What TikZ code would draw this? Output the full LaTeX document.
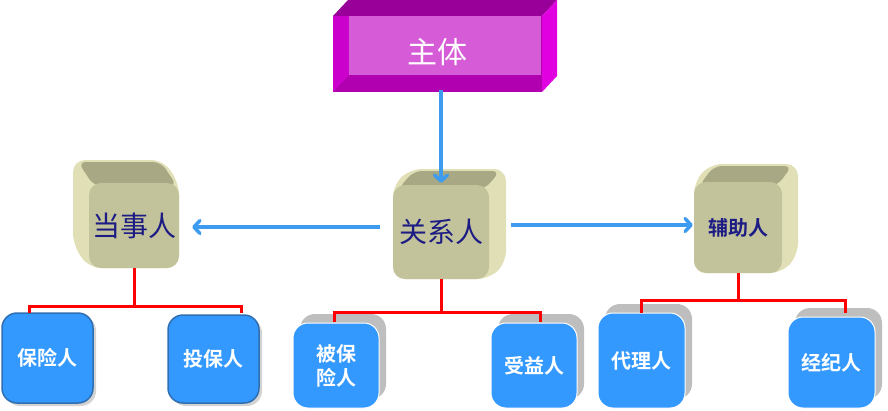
\documentclass[tikz,border=0pt]{standalone}
\usepackage{fontspec}
\newfontfamily\cjk[BoldFont={Noto Sans CJK SC Bold}]{Noto Sans CJK SC}
\usetikzlibrary{arrows,arrows.meta,positioning,shadows}

\definecolor{cubefront}{HTML}{C3C39B}
\definecolor{cubetop}{HTML}{A8A884}
\definecolor{cubeside}{HTML}{E0DFB5}
\definecolor{navytext}{HTML}{1C1C84}
\definecolor{boxblue}{HTML}{3399FF}
\definecolor{boxedge}{HTML}{2F6EB0}
\definecolor{backgrey}{HTML}{BEBEBE}
\definecolor{arrowblue}{HTML}{3D9BF0}

\begin{document}
\begin{tikzpicture}[x=1pt,y=-1pt,font=\cjk]
\tikzstyle{cube}=[rounded corners=12pt, fill=cubefront, text=navytext, inner sep=0pt]
\tikzstyle{bluebox}=[rounded corners=15pt, fill=boxblue, text=white, font=\cjk\bfseries\fontsize{20}{24}\selectfont, align=center, inner sep=0pt]
\tikzstyle{edged}=[draw=boxedge, line width=1.5pt, drop shadow={shadow xshift=3pt,shadow yshift=-3pt,opacity=.35}]
\tikzstyle{backed}=[draw=white, line width=1pt, drop shadow={shadow xshift=7pt,shadow yshift=9pt,fill=backgrey,opacity=1}]
\tikzstyle{bluearrow}=[draw=arrowblue, line width=3.5pt, -{Straight Barb[length=6pt,width=13pt,round]}]
\tikzstyle{redline}=[draw=red, line width=3pt]

\useasboundingbox (0,0) rectangle (888,410);

% top box
\fill[fill={rgb,255:red,153;green,0;blue,153}] (333,16) -- (348,0) -- (557,0) -- (542,16) -- cycle;
\fill[fill={rgb,255:red,224;green,0;blue,224}] (542,16) -- (557,0) -- (557,76) -- (542,92) -- cycle;
\fill[fill={rgb,255:red,176;green,0;blue,176}] (333,16) rectangle (542,92);
\fill[fill={rgb,255:red,204;green,0;blue,204}] (333,16) -- (349,16) -- (349,75) -- (333,92) -- cycle;
\fill[fill={rgb,255:red,214;green,91;blue,214}] (349,16) rectangle (541,75);
\node[minimum width=209pt, minimum height=76pt, inner sep=0pt, text=white, font=\cjk\fontsize{30}{34}\selectfont] (zhuti) at (437.5,52) {主体};

% cubes
\fill[cubeside, rounded corners=12pt] (73,160) -- (163,160) -- (179,183) -- (179,268) -- (89,268) -- (73,245) -- cycle;
\fill[cubetop, rounded corners=8pt] (78,162) -- (161,162) -- (177,186) -- (94,186) -- cycle;
\node[cube, minimum width=90pt, minimum height=85pt, font=\cjk\fontsize{28}{30}\selectfont] (dangshi) at (134,225.5) {当事人};

\fill[cubeside, rounded corners=12pt] (393,185) -- (410,169) -- (506,169) -- (506,263) -- (489,279) -- (393,279) -- cycle;
\fill[cubetop, rounded corners=8pt] (398,189) -- (414,171) -- (500,171) -- (485,189) -- cycle;
\node[cube, minimum width=96pt, minimum height=94pt, font=\cjk\fontsize{28}{30}\selectfont] (guanxi) at (441,232) {关系人};

\fill[cubeside, rounded corners=12pt] (694,182) -- (710,164) -- (798,164) -- (798,255) -- (782,273) -- (694,273) -- cycle;
\fill[cubetop, rounded corners=8pt] (699,186) -- (714,166) -- (792,166) -- (777,186) -- cycle;
\node[cube, minimum width=88pt, minimum height=91pt, font=\cjk\bfseries\fontsize{20}{22}\selectfont] (fuzhu) at (738,227.5) {辅助人};

% blue boxes
\node[bluebox, edged, minimum width=91pt, minimum height=90pt] (baoxian) at (47.5,358) {保险人};
\node[bluebox, edged, minimum width=91pt, minimum height=88pt] (toubao) at (213.5,359) {投保人};
\node[bluebox, backed, minimum width=86pt, minimum height=85pt] (beibao) at (336,365.5) {被保\\险人};
\node[bluebox, backed, minimum width=86pt, minimum height=85pt] (shouyi) at (534,365.5) {受益人};
\node[bluebox, backed, minimum width=87pt, minimum height=95pt] (daili) at (641.5,360.5) {代理人};
\node[bluebox, backed, minimum width=87pt, minimum height=91pt] (jingji) at (831.5,362.5) {经纪人};

% arrows
\draw[bluearrow] (zhuti.south -| guanxi.north) -- ([yshift=2pt]guanxi.north);
\draw[bluearrow, shorten <=13pt, shorten >=13pt] ([yshift=5pt]guanxi.west) -- ([yshift=5pt]guanxi.west -| dangshi.east);
\draw[bluearrow, shorten <=22pt, shorten >=1pt] ([yshift=7pt]guanxi.east) -- ([yshift=7pt]guanxi.east -| fuzhu.west);

% tree lines
\coordinate (baoxianTop) at (29,313);
\coordinate (toubaoTop) at (241,313);
\coordinate (beibaoTop) at (334,322);
\coordinate (shouyiTop) at (540,322);
\coordinate (dailiTop) at (641,313);
\coordinate (jingjiTop) at (845,313);
\draw[redline] (dangshi.south) -- ++(0,38) coordinate (dangshiFork);
\draw[redline] (baoxianTop) |- (dangshiFork) -| (toubaoTop);
\draw[redline] (guanxi.south) -- ++(0,33) coordinate (guanxiFork);
\draw[redline] (beibaoTop) |- (guanxiFork) -| (shouyiTop);
\draw[redline] (fuzhu.south) -- ++(0,27) coordinate (fuzhuFork);
\draw[redline] (dailiTop) |- (fuzhuFork) -| (jingjiTop);
\end{tikzpicture}
\end{document}
